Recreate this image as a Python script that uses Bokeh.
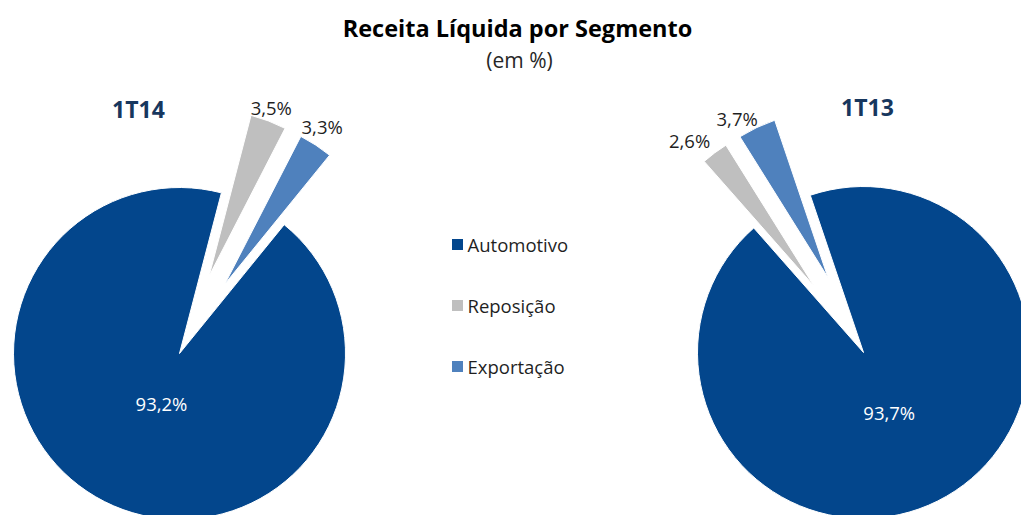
import math
from bokeh.plotting import figure
from bokeh.models import Range1d, ColumnDataSource
from bokeh.core.properties import value
from bokeh.embed import file_html
from bokeh.resources import INLINE

# ---- data ----
segments = ["Automotivo", "Reposição", "Exportação"]
periods = ["1T14", "1T13"]
values_1t14 = [93.2, 3.5, 3.3]
values_1t13 = [93.7, 2.6, 3.7]
colors = ["#03468C", "#BFBFBF", "#4F81BD"]
title_text = "Receita Líquida por Segmento"
subtitle_text = "(em %)"

# ---- layout (pixel-like data space; y measured upward) ----
W, H = 1021, 515
FONT = "Open Sans"

p = figure(width=W, height=H, output_backend="svg", toolbar_location=None,
           x_range=Range1d(0, W), y_range=Range1d(0, H),
           x_axis_type=None, y_axis_type=None, min_border=0)
p.grid.visible = False
p.outline_line_color = None
p.background_fill_color = "white"
p.border_fill_color = "white"

def Y(ys):
    return H - ys

def fmt(v):
    return ("%.1f%%" % v).replace(".", ",")

pies = [
    dict(vals=values_1t14, cx=179, cy=Y(353), first=39.1, name=periods[0],
         name_xy=(138, Y(108)), lab_dang=[-7, -0.5, -1], lab_r=[53, 263, 268]),
    dict(vals=values_1t13, cx=863, cy=Y(352), first=341.3, name=periods[1],
         name_xy=(867, Y(106)), lab_dang=[6.7, -2.7, -3], lab_r=[65, 274, 266]),
]
R = 166
explode = [0, 83, 83]

for pie in pies:
    vals = pie["vals"]
    total = sum(vals)
    xs, ys, sa, ea, lx, ly, lt, lc = [], [], [], [], [], [], [], []
    theta = pie["first"]
    for i, v in enumerate(vals):
        sweep = v / total * 360.0
        t1, t2 = theta, theta + sweep
        mid = (t1 + t2) / 2.0
        m = math.radians(90 - mid)
        xs.append(pie["cx"] + explode[i] * math.cos(m))
        ys.append(pie["cy"] + explode[i] * math.sin(m))
        sa.append(math.radians(90 - t2))
        ea.append(math.radians(90 - t1))
        lm = math.radians(90 - (mid + pie["lab_dang"][i]))
        lx.append(pie["cx"] + pie["lab_r"][i] * math.cos(lm))
        ly.append(pie["cy"] + pie["lab_r"][i] * math.sin(lm))
        lt.append(fmt(v))
        lc.append("white" if i == 0 else "#1F1F1F")
        theta = t2
    src = ColumnDataSource(dict(x=xs, y=ys, sa=sa, ea=ea, color=colors))
    p.wedge(x="x", y="y", radius=R, start_angle="sa", end_angle="ea",
            direction="anticlock", fill_color="color", line_color="white",
            line_width=1, source=src)
    p.text(x=lx, y=ly, text=lt, text_color=lc, text_font=value(FONT),
           text_font_size="18.5px", text_align="center", text_baseline="middle")
    p.text(x=[pie["name_xy"][0]], y=[pie["name_xy"][1]], text=[pie["name"]],
           text_color="#17375E", text_font=value(FONT), text_font_size="23px",
           text_font_style="bold", text_align="center", text_baseline="middle")

# ---- titles ----
p.text(x=[517], y=[Y(27)], text=[title_text], text_color="black",
       text_font=value(FONT), text_font_size="23.5px", text_font_style="bold",
       text_align="center", text_baseline="middle")
p.text(x=[519], y=[Y(59)], text=[subtitle_text], text_color="#262626",
       text_font=value(FONT), text_font_size="21px",
       text_align="center", text_baseline="middle")

# ---- legend ----
leg_y = [Y(244), Y(305), Y(366)]
p.scatter(x=[457] * 3, y=leg_y, marker="square", size=11, fill_color=colors,
          line_color=None)
p.text(x=[467] * 3, y=leg_y, text=segments, text_color="#1F1F1F",
       text_font=value(FONT), text_font_size="18.5px",
       text_align="left", text_baseline="middle")

open("out.html", "w").write(file_html(p, INLINE))
